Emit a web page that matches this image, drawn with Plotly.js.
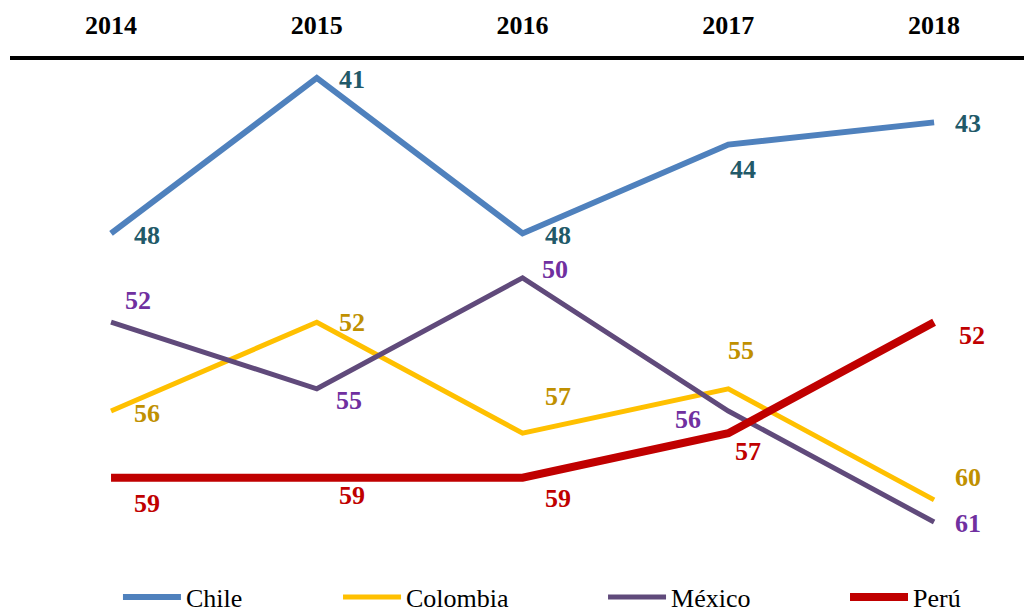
<!DOCTYPE html>
<html>
<head>
<meta charset="utf-8">
<script src="https://cdn.plot.ly/plotly-3.0.1.min.js"></script>
<style>html,body{margin:0;padding:0;background:#fff;}#chart{width:1024px;height:608px;}</style>
</head>
<body>
<div id="chart"></div>
<script>
const years = ['2014', '2015', '2016', '2017', '2018'];
const chile = [48, 41, 48, 44, 43];
const colombia = [56, 52, 57, 55, 60];
const mexico = [52, 55, 50, 56, 61];
const peru = [59, 59, 59, 57, 52];

const seriesNames = ['Chile', 'Colombia', 'México', 'Perú'];
const seriesData = [chile, colombia, mexico, peru];
const lineColors = ['#4F81BD', '#FFC000', '#604A7B', '#C00000'];
const labelColors = ['#215968', '#C09000', '#7030A0', '#C00000'];
const lineWidths = [6, 5, 5, 8];
// label offsets [dx, dy(screen, down positive)]
const labelOffsets = [
  [[36, 2], [35, 2], [35, 2], [15, 25], [34, 1]],
  [[36, 2], [35, 0], [35, -37], [13, -38], [34, -22]],
  [[27, -22], [32, 12], [32, -8], [-40, 8], [34, 1]],
  [[36, 26], [35, 18], [35, 21], [20, 18], [38, 13]]
];
const legendX = [0.1152, 0.3301, 0.5889, 0.8252];
const legendEntryWidths = [70, 115, 95, 70];

const serif = '"Liberation Serif", "Times New Roman", Times, serif';

const traces = seriesData.map((vals, i) => ({
  type: 'scatter', mode: 'lines', x: years, y: vals, name: seriesNames[i],
  line: {color: lineColors[i], width: lineWidths[i]},
  legend: i === 0 ? 'legend' : 'legend' + (i + 1),
  hoverinfo: 'skip'
}));

const annotations = [];
seriesData.forEach((vals, i) => {
  vals.forEach((v, j) => {
    annotations.push({
      x: j, y: v, xref: 'x', yref: 'y', text: '<b>' + v + '</b>', showarrow: false,
      xshift: labelOffsets[i][j][0], yshift: -labelOffsets[i][j][1],
      font: {family: serif, size: 26, color: labelColors[i]},
      xanchor: 'center', yanchor: 'middle'
    });
  });
});

const layout = {
  width: 1024, height: 608,
  margin: {l: 10, r: 0, t: 60, b: 42, pad: 0},
  paper_bgcolor: '#fff', plot_bgcolor: '#fff',
  font: {family: serif, color: '#000'},
  showlegend: true,
  xaxis: {
    type: 'category', side: 'top', range: [-0.491, 4.437],
    showgrid: false, zeroline: false,
    showline: true, linecolor: '#000', linewidth: 4,
    ticks: '', ticklabelstandoff: 12,
    tickfont: {family: serif, size: 26, color: '#000', weight: 'bold'},
    fixedrange: true
  },
  yaxis: {
    range: [62.98, 40.19], showgrid: false, zeroline: false, showline: false,
    showticklabels: false, ticks: '', fixedrange: true
  },
  annotations: annotations
};
['legend', 'legend2', 'legend3', 'legend4'].forEach((key, i) => {
  layout[key] = {
    orientation: 'h', xref: 'container', yref: 'container',
    x: legendX[i], xanchor: 'left', y: 0.018, yanchor: 'middle',
    itemwidth: 58, entrywidth: legendEntryWidths[i], entrywidthmode: 'pixels',
    font: {family: serif, size: 26, color: '#000'},
    bgcolor: 'rgba(0,0,0,0)', borderwidth: 0
  };
});

Plotly.newPlot('chart', traces, layout, {displayModeBar: false, staticPlot: true});
</script>
</body>
</html>
